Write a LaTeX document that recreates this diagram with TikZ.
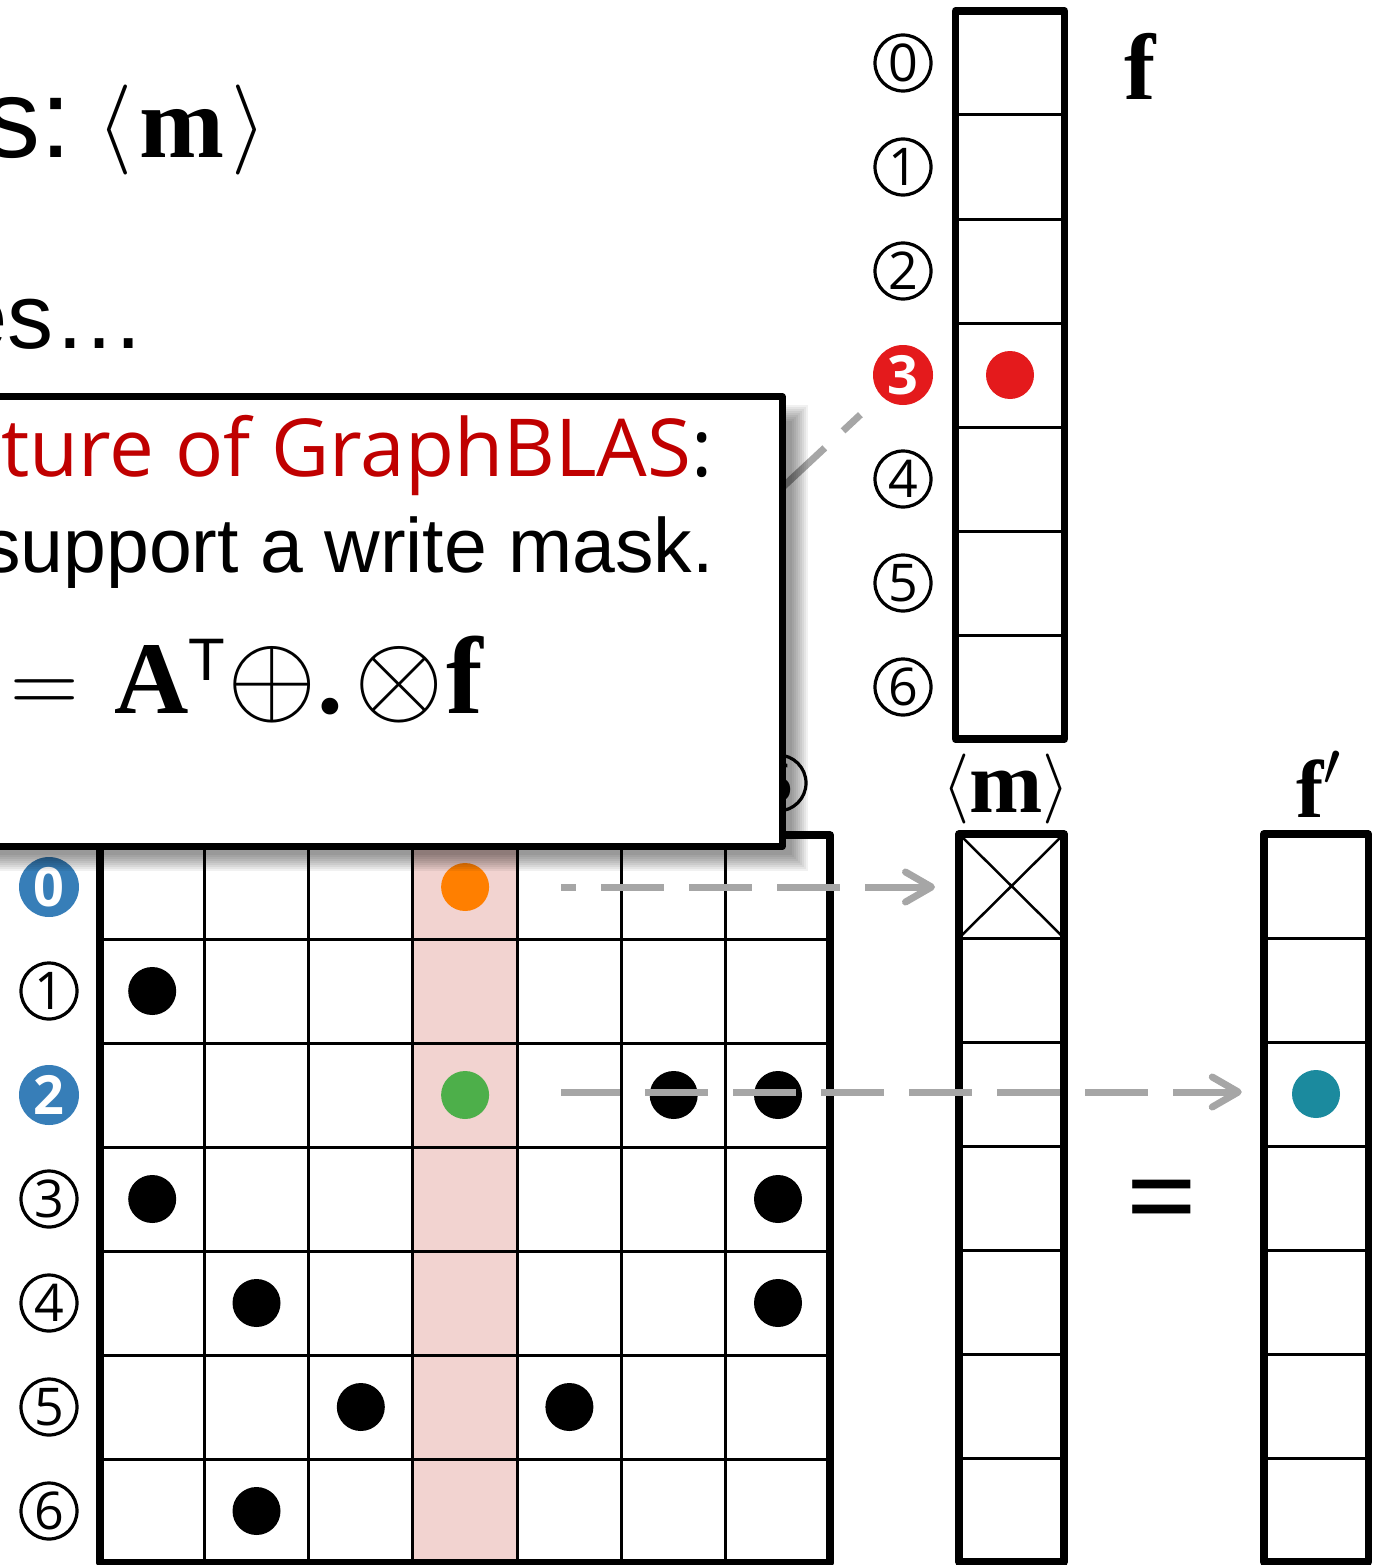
\RequirePackage{fix-cm}
\documentclass[tikz,border=0pt]{standalone}
\usepackage{fontspec}
\usetikzlibrary{arrows.meta}
\newfontfamily\sansfont{Open Sans}
\newfontfamily\arialfont{Liberation Sans}
\newfontfamily\timesfont{Liberation Serif}
\definecolor{maskpink}{RGB}{242,211,208}
\definecolor{setred}{RGB}{228,26,28}
\definecolor{setblue}{RGB}{55,126,184}
\definecolor{setgreen}{RGB}{77,175,74}
\definecolor{setorange}{RGB}{255,127,0}
\definecolor{setteal}{RGB}{27,138,158}
\definecolor{flowgray}{RGB}{166,166,166}
\definecolor{boxred}{RGB}{192,0,0}
\tikzset{
  idx/.style={circle, draw, line width=3.2pt, minimum size=56pt, inner sep=0pt,
    font=\fontsize{52}{52}\selectfont\sansfont},
  idxon/.style={circle, fill=#1, text=white, minimum size=60pt, inner sep=0pt,
    font=\fontsize{54}{54}\selectfont\sansfont\bfseries},
  mcell/.style={draw, line width=3pt, minimum width=104.3pt, minimum height=104pt,
    inner sep=0pt, outer sep=0pt},
  vcell/.style={mcell, minimum width=#1},
  frame/.style={line width=7.5pt},
  dot/.style={circle, fill=#1, minimum size=48pt, inner sep=0pt},
  flow/.style={draw=flowgray, line width=7pt, dash pattern=on 63pt off 25pt},
  popup/.style={draw, fill=white, line width=7pt, inner sep=0pt},
}
\begin{document}
\begin{tikzpicture}[x=1pt, y=-1pt, line join=round]
  \def\boxL{-40} \def\boxR{782} \def\boxT{396.5} \def\boxB{846.5}
  \def\dx{18} \def\dy{16}
  \useasboundingbox (0,0) rectangle (1383,1565);

  % matrix A^T with the masked column
  \fill[maskpink] (413,835) rectangle (517.3,1563);
  \foreach \r in {0,...,6}
    \foreach \c in {0,...,6}
      \node[mcell] (A\r\c) at ({152.2+104.3*\c},{887+104*\r}) {};
  \draw[frame] (A00.north west) rectangle (A66.south east);
  \foreach \c in {0,...,6}
    \node[idx] (cl\c) at ({152.2+104.3*\c},783) {\c};
  \foreach \r in {1,3,4,5,6}
    \node[idx] (rl\r) at (49,{887+104*\r}) {\r};
  \node[idxon=setblue] (rl0) at (49,887) {0};
  \node[idxon=setblue] (rl2) at (49,1095) {2};
  \foreach \r/\c in {1/0,2/5,2/6,3/0,3/6,4/1,4/6,5/2,5/4,6/1}
    \node[dot=black] (d\r\c) at (A\r\c) {};
  \node[dot=setorange] (d03) at (A03) {};
  \node[dot=setgreen] (d23) at (A23) {};

  % vector f
  \foreach \i in {0,...,6}
    \node[vcell=109pt] (f\i) at (1010,{63+104*\i}) {};
  \draw[frame] (f0.north west) rectangle (f6.south east);
  \foreach \i in {0,1,2,4,5,6}
    \node[idx] (fl\i) at (903,{63+104*\i}) {\i};
  \node[idxon=setred] (fl3) at (903,375) {3};
  \node[dot=setred] (fd3) at (f3) {};
  \node[anchor=base, inner sep=0pt] (flab) at (1140,100)
    {\fontsize{94}{94}\selectfont\timesfont\bfseries f};

  % mask
  \foreach \i in {0,...,6}
    \node[vcell=105pt] (m\i) at (1011.5,{886+104*\i}) {};
  \draw[frame] (m0.north west) rectangle (m6.south east);
  \draw[line width=2.5pt] (m0.north west) -- (m0.south east)
    (m0.north east) -- (m0.south west);
  \node[anchor=base, inner sep=0pt] (mlab) at (1006,812)
    {\fontsize{70}{70}\selectfont\raisebox{6pt}{$\langle$}%
     \fontsize{88}{88}\selectfont\timesfont\bfseries m%
     \fontsize{70}{70}\selectfont\raisebox{6pt}{$\rangle$}};

  % result f'
  \foreach \i in {0,...,6}
    \node[vcell=104.5pt] (fp\i) at (1316,{886+104*\i}) {};
  \draw[frame] (fp0.north west) rectangle (fp6.south east);
  \node[dot=setteal] (fpd2) at (fp2) {};
  \node[anchor=base, inner sep=0pt] (fplab) at (1319,817)
    {\fontsize{82}{82}\selectfont\timesfont\bfseries f%
     \fontsize{88}{88}\selectfont$^{\prime}$};
  \node[anchor=base, inner sep=0pt] (eqsign) at (1162,1238)
    {\fontsize{125}{125}\selectfont\timesfont\bfseries =};

  % flows
  \coordinate (s0) at (561,887);
  \coordinate (s2) at (561,1092);
  \draw[flow, dash phase=48pt, -{Straight Barb[length=26pt,width=30pt,round]},
    shorten >=24pt] (s0) -- (s0 -| m0.west);
  \draw[flow, dash phase=4pt, -{Straight Barb[length=26pt,width=30pt,round]},
    shorten >=22pt] (s2) -- (s2 -| fp2.west);
  \draw[flow, dash phase=41pt, shorten >=28pt] (cl3) -- (fl3);

  % shadow and popup
  \foreach \e in {-8,-6,...,8}
    \fill[black, fill opacity=0.055]
      ({\boxL+\dx-\e},{\boxT+\dy-\e}) rectangle ({\boxR+\dx+\e},{\boxB+\dy+\e});
  \node[popup, minimum width=822pt, minimum height=450pt] (popup)
    at ({(\boxL+\boxR)/2},{(\boxT+\boxB)/2}) {};
  \node[anchor=base west, inner sep=0pt] (line1) at (1,476)
    {\fontsize{80}{80}\selectfont\sansfont\textcolor{boxred}{ture of GraphBLAS}:};
  \node[anchor=base west, inner sep=0pt] (line2) at (-18,572)
    {\fontsize{77}{77}\selectfont\arialfont support a write mask.};
  \node[anchor=base west, inner sep=0pt] (eq) at (10,713)
    {\fontsize{95}{95}\selectfont$=$\hspace{36pt}%
     {\fontsize{103}{103}\selectfont\timesfont\bfseries A}%
     \raisebox{33pt}{\fontsize{60}{60}\selectfont\arialfont T}\hspace{2pt}%
     {\fontsize{115}{115}\selectfont$\oplus$}%
     {\fontsize{103}{103}\selectfont\timesfont\bfseries .}\hspace{12pt}%
     {\fontsize{115}{115}\selectfont$\otimes$}\hspace{2pt}%
     {\fontsize{110}{110}\selectfont\timesfont\bfseries f}};

  % slide text behind
  \node[anchor=base west, inner sep=0pt] (title) at (-16,158)
    {\fontsize{112}{112}\selectfont\arialfont s:\hspace{26pt}%
     \fontsize{90}{90}\selectfont\raisebox{5pt}{$\langle$}\hspace{7pt}%
     \fontsize{102}{102}\selectfont\timesfont\bfseries m\hspace{7pt}%
     \fontsize{90}{90}\selectfont\raisebox{5pt}{$\rangle$}};
  \node[anchor=base east, inner sep=0pt] (dots) at (146,348)
    {\fontsize{92}{92}\selectfont\arialfont es\ldots};
\end{tikzpicture}
\end{document}
